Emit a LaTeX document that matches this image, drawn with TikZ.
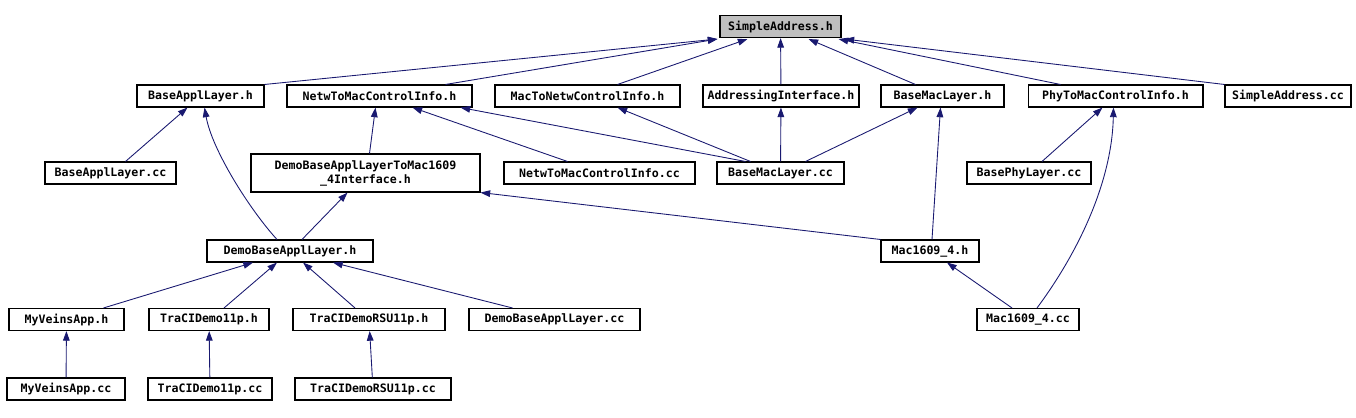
\documentclass[tikz,border=0pt]{standalone}
\usepackage{fontspec}
\setmonofont{DejaVu Sans Mono}
\usetikzlibrary{arrows.meta,calc}
\definecolor{edgec}{HTML}{191970}
\definecolor{rootfill}{HTML}{BFBFBF}
\tikzset{
  fblk/.style={draw, rectangle, inner sep=0pt, minimum height=0.44cm, align=center, font=\ttfamily\bfseries\fontsize{6.6}{8}\selectfont, line width=0.6pt},
  arr/.style={-{Triangle[length=5.5pt,width=3.8pt]}, draw=edgec, line width=0.5pt},
}
\begin{document}
\begin{tikzpicture}[x=0.02cm, y=-0.02cm]
\useasboundingbox (0,0) rectangle (1356,417);

\node[fblk, minimum width=2.42cm, fill=rootfill] (saddr) at (780.5,26.5) {SimpleAddress.h};

\node[fblk, minimum width=2.54cm] (applh) at (200.5,96) {BaseApplLayer.h};
\node[fblk, minimum width=3.70cm] (ntmh) at (379.5,96) {NetwToMacControlInfo.h};
\node[fblk, minimum width=3.70cm] (mtnh) at (587.5,96) {MacToNetwControlInfo.h};
\node[fblk, minimum width=3.12cm] (addrh) at (781,96) {AddressingInterface.h};
\node[fblk, minimum width=2.46cm] (bmach) at (942.5,96) {BaseMacLayer.h};
\node[fblk, minimum width=3.50cm] (ptmh) at (1115.5,96) {PhyToMacControlInfo.h};
\node[fblk, minimum width=2.52cm] (saddrcc) at (1288,96) {SimpleAddress.cc};

\node[fblk, minimum width=2.62cm] (applcc) at (110.5,173) {BaseApplLayer.cc};
\node[fblk, minimum width=4.58cm, minimum height=0.76cm] (ifaceh) at (365.5,173) {DemoBaseApplLayerToMac1609\\\_4Interface.h};
\node[fblk, minimum width=3.82cm] (ntmcc) at (599.5,173) {NetwToMacControlInfo.cc};
\node[fblk, minimum width=2.54cm] (bmaccc) at (780.5,173) {BaseMacLayer.cc};
\node[fblk, minimum width=2.48cm] (bphycc) at (1029,173) {BasePhyLayer.cc};

\node[fblk, minimum width=3.32cm] (demoh) at (290,251) {DemoBaseApplLayer.h};
\node[fblk, minimum width=1.96cm] (mach) at (930,251) {Mac1609\_4.h};

\node[fblk, minimum width=2.30cm] (veinsh) at (66.5,319.5) {MyVeinsApp.h};
\node[fblk, minimum width=2.40cm] (tdh) at (209,319.5) {TraCIDemo11p.h};
\node[fblk, minimum width=3.04cm] (rsuh) at (369,319.5) {TraCIDemoRSU11p.h};
\node[fblk, minimum width=3.42cm] (democc) at (554.5,319.5) {DemoBaseApplLayer.cc};
\node[fblk, minimum width=2.04cm] (maccc) at (1028,319.5) {Mac1609\_4.cc};

\node[fblk, minimum width=2.36cm] (veinscc) at (66,389) {MyVeinsApp.cc};
\node[fblk, minimum width=2.48cm] (tdcc) at (210,389) {TraCIDemo11p.cc};
\node[fblk, minimum width=3.12cm] (rsucc) at (373,389) {TraCIDemoRSU11p.cc};

% includes of SimpleAddress.h
\draw[arr] (applh.north east) -- ($(saddr.south west)+(-2,1)$);
\draw[arr] ($(ntmh.north east)+(-27,0)$) -- ($(saddr.south west)+(-2,1)$);
\draw[arr] ($(mtnh.north)+(30,0)$) -- ($(saddr.south west)+(28,1)$);
\draw[arr] (addrh) -- (saddr);
\draw[arr] ($(bmach.north)+(-27,0)$) -- ($(saddr.south)+(28,1)$);
\draw[arr] ($(ptmh.north)+(-55,0)$) -- ($(saddr.south east)+(-3,1)$);
\draw[arr] (saddrcc.north west) -- ($(saddr.south east)+(3,1)$);

\draw[arr] ($(applcc.north)+(15,0)$) -- ($(applh.south)+(-13,0)$);
\draw[arr] ($(demoh.north)+(-13,0)$) .. controls (250,210) and (212,150) .. ($(applh.south)+(4,0)$);
\draw[arr] ($(ifaceh.north)+(4,0)$) -- ($(ntmh.south)+(-4,0)$);
\draw[arr] ($(ntmcc.north)+(-32,0)$) -- ($(ntmh.south)+(33,0)$);
\draw[arr] ($(bmaccc.north)+(-35,0)$) -- ($(ntmh.south east)+(-12,0)$);
\draw[arr] ($(bmaccc.north)+(-30,0)$) -- ($(mtnh.south)+(30,0)$);
\draw[arr] (bmaccc) -- (addrh);
\draw[arr] ($(bmaccc.north)+(25,0)$) -- ($(bmach.south)+(-25,0)$);
\draw[arr] ($(bphycc.north)+(13,0)$) -- ($(ptmh.south)+(-13,0)$);
\draw[arr] ($(maccc.north)+(9,0)$) .. controls (1080,250) and (1112,180) .. ($(ptmh.south)+(-2,0)$);

\draw[arr] ($(demoh.north)+(12,0)$) -- ($(ifaceh.south)+(-18,0)$);
\draw[arr] (mach.north west) -- (ifaceh.south east);
\draw[arr] ($(mach.north)+(2,0)$) -- ($(bmach.south)+(-2,0)$);
\draw[arr] ($(maccc.north)+(-16,0)$) -- ($(mach.south)+(17,0)$);

\draw[arr] ($(veinsh.north)+(37,0)$) -- ($(demoh.south)+(-37,0)$);
\draw[arr] ($(tdh.north)+(15,0)$) -- ($(demoh.south)+(-13,0)$);
\draw[arr] ($(rsuh.north)+(-14,0)$) -- ($(demoh.south)+(13,0)$);
\draw[arr] ($(democc.north)+(-42,0)$) -- ($(demoh.south)+(43,0)$);

\draw[arr] (veinscc) -- (veinsh);
\draw[arr] (tdcc) -- (tdh);
\draw[arr] (rsucc) -- (rsuh);

\end{tikzpicture}
\end{document}
